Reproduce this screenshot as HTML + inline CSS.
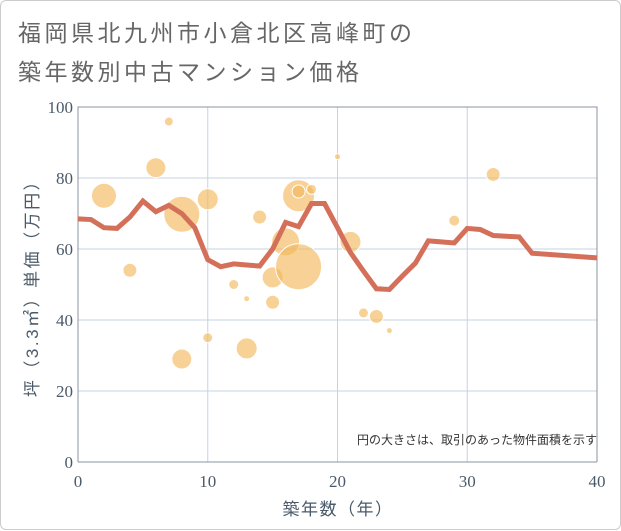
<!DOCTYPE html>
<html><head><meta charset="utf-8"><style>
body{margin:0;background:#fff;}
.card{position:absolute;left:0;top:0;width:619px;height:528px;border:1px solid #ccc;border-radius:6px;background:#fff;font-family:"Liberation Sans","Noto Sans CJK JP",sans-serif;}
.t{position:absolute;left:17px;font-size:23px;letter-spacing:3.5px;color:#666;white-space:nowrap;}
</style></head><body>
<div class="card">
<div class="t" style="top:13px">福岡県北九州市小倉北区高峰町の</div>
<div class="t" style="top:52px">築年数別中古マンション価格</div>
<svg id="chart" width="621" height="530" style="position:absolute;left:0;top:0"></svg>
</div>
<script>
const lineYears=[0,1,2,3,4,5,6,7,8,9,10,11,12,13,14,15,16,17,18,19,20,21,22,23,24,25,26,27,28,29,30,31,32,33,34,35,40];
const lineValues=[68.5,68.3,66,65.8,69,73.5,70.5,72.3,70,66,57,55,55.8,55.5,55.2,60,67.5,66.3,72.8,72.8,66,59,53.8,48.8,48.6,52.4,56,62.3,62,61.7,65.8,65.5,63.8,63.6,63.4,58.8,57.5];
const bubbleYears=[7,6,2,4,8,10,8,10,13,12,13,14,15,15,16,17,17,17,18,20,21,22,23,24,29,32];
const bubbleValues=[95.9,82.9,75,54,69.8,74,29,35,32,50,46,69,52,45,62,55,75,76.2,76.8,86,62,42,41,37,68,81];
const bubbleSizes=[4.5,10,12.5,7,18,10.5,10,5,10.5,5,3,7,10.5,7,14,23,16,6.5,5,3,10.5,5,7,3,5.5,7];
const xTicks=[0,10,20,30,40];
const yTicks=[0,20,40,60,80,100];
const svg=document.getElementById('chart');
const NS='http://www.w3.org/2000/svg';
const X0=77,X1=596,Y0=461,Y1=106;
const xs=v=>X0+(v/40)*(X1-X0);
const ys=v=>Y0-(v/100)*(Y0-Y1);
function mk(tag,attrs,parent){const e=document.createElementNS(NS,tag);for(const k in attrs)e.setAttribute(k,attrs[k]);(parent||svg).appendChild(e);return e;}
const grid=mk('g',{});


yTicks.forEach(t=>{
 const l=mk('line',{x1:X0,x2:X1,y1:ys(t),y2:ys(t),stroke:'#c5d3e2','stroke-width':1},grid);
 
 
 const tx=mk('text',{x:X0-5,y:ys(t)+6,'text-anchor':'end','font-size':17,fill:'#4a5a6a','font-family':'Liberation Serif, serif'});
 tx.textContent=t;
 
 
});
xTicks.forEach(t=>{
 const l=mk('line',{x1:xs(t),x2:xs(t),y1:Y1,y2:Y0,stroke:'#c5d3e2','stroke-width':1},grid);
 
 
 const tx=mk('text',{x:xs(t),y:Y0+25,'text-anchor':'middle','font-size':17,fill:'#4a5a6a','font-family':'Liberation Serif, serif'});
 tx.textContent=t;
 
 
});
const frame=mk('path',{d:`M${X0},${Y0}V${Y1}H${X1}V${Y0}`,fill:'none',stroke:'#8894a0','stroke-width':1});


const base=mk('line',{x1:X0,x2:X1,y1:Y0,y2:Y0,stroke:'#8894a0','stroke-width':1});


const bg=mk('g',{});


bubbleYears.forEach((y,i)=>{
 const c=mk('circle',{cx:xs(y),cy:ys(bubbleValues[i]),r:bubbleSizes[i],fill:'#f2b95c','fill-opacity':0.65,stroke:'#fff','stroke-width':1},bg);
 
 
});
const pl=mk('polyline',{points:lineYears.map((y,i)=>xs(y)+','+ys(lineValues[i])).join(' '),fill:'none',stroke:'#d4705a','stroke-width':5,'stroke-linejoin':'miter'});


const note=mk('text',{x:596,y:443,'text-anchor':'end','font-size':12,fill:'#333'});
note.textContent='円の大きさは、取引のあった物件面積を示す';


const xt=mk('text',{x:337,y:514,'text-anchor':'middle','font-size':17,fill:'#4a5a6a','letter-spacing':1.5});
xt.textContent='築年数（年）';


const yt=mk('text',{x:0,y:0,'text-anchor':'middle','font-size':17,fill:'#4a5a6a',transform:'translate(37,283) rotate(-90)','letter-spacing':2.5});
yt.textContent='坪（3.3㎡）単価（万円）';


</script>
</body></html>
